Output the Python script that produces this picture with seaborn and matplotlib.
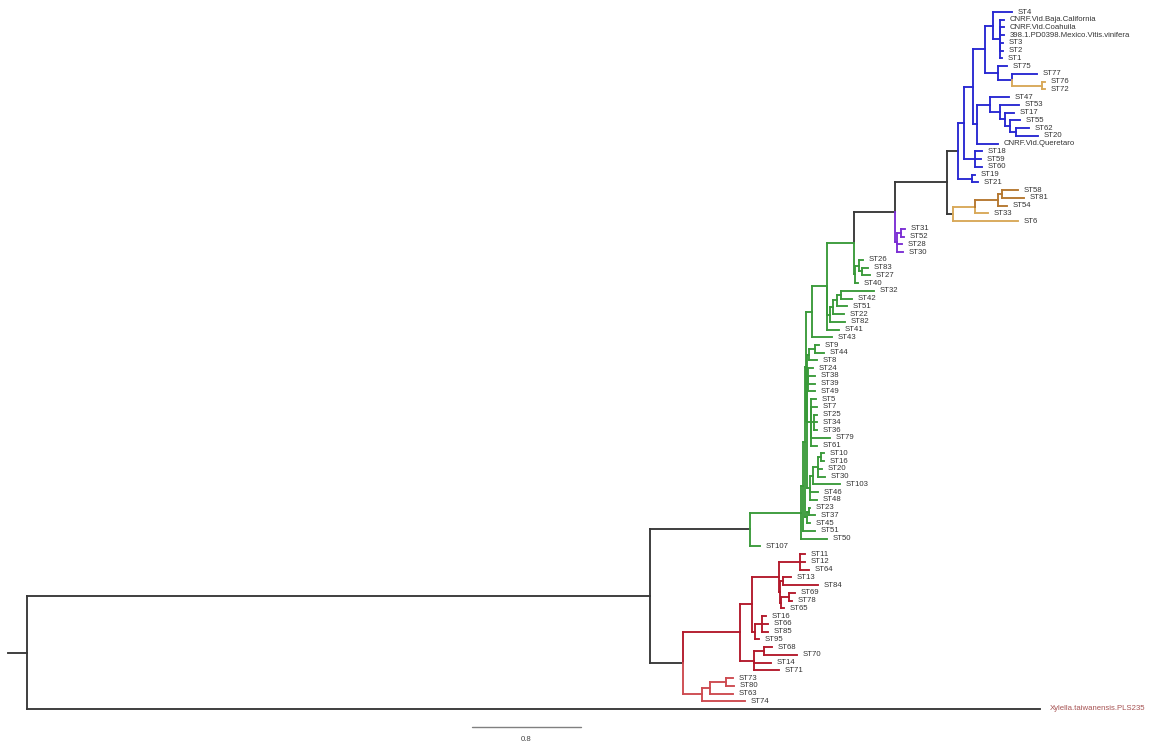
import matplotlib
matplotlib.use("Agg")
import matplotlib.pyplot as plt
import seaborn as sns
import pandas as pd

# Newick-style clade definitions. The number after ':' is the cumulative
# distance of that node from the root (substitutions per site).
CLADE_B6 = "(ST4:7.243,(CNRF.Vid.Baja.California:7.184,CNRF.Vid.Coahuila:7.184,398.1.PD0398.Mexico.Vitis.vinifera:7.184,ST3:7.176,ST2:7.176,ST1:7.169)B7:7.154)B6:7.103"
CLADE_B8 = "(ST75:7.206,(ST77:7.426,(ST76:7.485,ST72:7.485)B10:7.463)B9:7.243)B8:7.140"
CLADE_B5 = "((ST47:7.221,(ST53:7.294,(ST17:7.257,(ST55:7.301,(ST62:7.368,ST20:7.434)L4:7.272)L3:7.228)L2:7.191)L1b:7.154)L1:7.081,CNRF.Vid.Queretaro:7.140)B5:6.985"
CLADE_B3 = "(ST18:7.022,ST59:7.015,ST60:7.022)B3:6.971"
CLADE_BLOW = "(ST19:6.971,ST21:6.993)Blow:6.949"
CLADE_O = "((((ST58:7.287,ST81:7.331)O3:7.169,ST54:7.206)O2:7.140,ST33:7.066)O1:6.971,ST6:7.287)O:6.809"
CLADE_P = "((ST31:6.456,ST52:6.449)P1:6.426,ST28:6.434,ST30:6.441)P:6.397"
CLADE_E = "((ST26:6.147,(ST83:6.184,ST27:6.199)E2:6.140)E1:6.118,ST40:6.110)E:6.088"
CLADE_LAD = "((((ST32:6.228,ST42:6.066)LAD4:5.985,ST51:6.029)LAD3:5.956,ST22:6.007)LAD2:5.926,ST82:6.015)LAD:5.904"
CLADE_GC = ("(((ST9:5.824,ST44:5.860)GC1a:5.794,ST8:5.809)GC1:5.750,"
            "(ST24:5.779,ST38:5.794,ST39:5.794,ST49:5.794)GC2:5.743,"
            "(ST5:5.801,ST7:5.809,(ST25:5.809,ST34:5.809,ST36:5.809)GC3a:5.787,ST79:5.904,ST61:5.809)GC3:5.765,"
            "((((ST10:5.860,ST16:5.860)GC7:5.838,ST20:5.846,ST30:5.868)GC6:5.816,ST103:5.978)GC5:5.779,ST46:5.816,ST48:5.809)GC4:5.757)GC:5.735")
CLADE_GD = "((ST23:5.757,ST37:5.794)GD1:5.750,ST45:5.757)GD:5.735"
CLADE_R7 = "(ST11:5.721,ST12:5.721,ST64:5.750)R7:5.684"
CLADE_R8 = "((ST13:5.618,ST84:5.816)R8a:5.559,((ST69:5.647,ST78:5.625)R8c:5.603,ST65:5.566)R8b:5.544)R8:5.537"
CLADE_R6 = "((ST16:5.434,ST66:5.449,ST85:5.449)R6a:5.404,ST95:5.382)R6:5.353"
CLADE_R4 = "((ST68:5.478,ST70:5.662)R4a:5.419,ST14:5.471,ST71:5.529)R4:5.346"
CLADE_R2 = "(((ST73:5.191,ST80:5.199)R2b:5.140,ST63:5.191)R2a:5.022,ST74:5.279)R2:4.963"
OUTGROUP = "Xylella.taiwanensis.PLS235:7.449"

# Assemble the full tree
b4 = f"({CLADE_B6},{CLADE_B8})B4:7.044"
b2 = f"({b4},{CLADE_B5})B2:6.956"
b1 = f"({b2},{CLADE_B3})B1:6.890"
b0 = f"({b1},{CLADE_BLOW})B0:6.846"
v = f"({b0},{CLADE_O})V:6.765"
u = f"({v},{CLADE_P})U:6.382"
d = f"({u},{CLADE_E})D:6.081"
c1 = f"({d},{CLADE_LAD},ST41:5.971)C1:5.882"
gb = f"({c1},ST43:5.919)GB:5.772"
g4 = f"({gb},{CLADE_GC})G4:5.728"
g3 = f"({g4},{CLADE_GD})G3:5.721"
g2 = f"({g3},ST51:5.794)G2:5.706"
g = f"({g2},ST50:5.882)G:5.691"
bn = f"({g},ST107:5.390)BN:5.316"
r5 = f"({CLADE_R7},{CLADE_R8})R5:5.529"
r3 = f"({r5},{CLADE_R6})R3:5.331"
r1 = f"({r3},{CLADE_R4})R1:5.243"
r = f"({r1},{CLADE_R2})R:4.824"
a = f"({bn},{r})A:4.581"
TREE = f"({a},{OUTGROUP})root:0;"

# Clade colouring: a tag applies to the node and everything below it
PALETTE = {
    "black": "#383838",
    "green": "#3a9a3a",
    "blue": "#2828d2",
    "purple": "#7b2fd4",
    "tan": "#d8a858",
    "amber": "#b5772f",
    "crimson": "#b3192b",
    "rose": "#cd4a50",
}
CLADE_TAGS = {
    "G": "green", "ST107": "green", "U": "black", "P": "purple",
    "B1": "blue", "Blow": "blue", "O1": "tan", "ST6": "tan", "O2": "amber",
    "B10": "tan", "R1": "crimson", "R2": "rose",
}
SCALE_LENGTH = 0.8


def parse_newick(s):
    pos = 0

    def node():
        nonlocal pos
        children = []
        if s[pos] == "(":
            pos += 1
            while True:
                children.append(node())
                if s[pos] == ",":
                    pos += 1
                    continue
                if s[pos] == ")":
                    pos += 1
                    break
        start = pos
        while s[pos] not in ",();":
            pos += 1
        name, depth = s[start:pos].rsplit(":", 1)
        return {"name": name.strip(), "depth": float(depth), "children": children}

    return node()


tree = parse_newick(TREE)

# Leaf order gives vertical positions; internal nodes sit midway between outer children
leaves = []


def layout(n, color):
    n["color"] = CLADE_TAGS.get(n["name"], color)
    if not n["children"]:
        n["y"] = len(leaves)
        leaves.append(n)
    else:
        for c in n["children"]:
            layout(c, n["color"])
        n["y"] = (n["children"][0]["y"] + n["children"][-1]["y"]) / 2


layout(tree, "black")

rows = []
seg = 0


def add_seg(x0, y0, x1, y1, color):
    global seg
    rows.append({"seg": seg, "x": x0, "y": y0, "clade": color})
    rows.append({"seg": seg, "x": x1, "y": y1, "clade": color})
    seg += 1


def edges(n, parent=None):
    if parent is not None:
        add_seg(parent["depth"], n["y"], n["depth"], n["y"], n["color"])
    for c in n["children"]:
        add_seg(n["depth"], n["y"], n["depth"], c["y"], c["color"])
        edges(c, n)


edges(tree)
add_seg(-0.14, tree["y"], 0.0, tree["y"], "black")
df = pd.DataFrame(rows)

sns.set_theme(style="white")
plt.rcParams["font.family"] = ["Liberation Sans", "DejaVu Sans"]

fig = plt.figure(figsize=(11.51, 7.44), dpi=100)
ax = fig.add_axes([0, 0, 1, 1])
sns.lineplot(data=df, x="x", y="y", units="seg", estimator=None, hue="clade",
             palette=PALETTE, sort=False, legend=False, linewidth=1.35,
             solid_capstyle="projecting", ax=ax)

for lf in leaves:
    outgroup = lf["name"].startswith("Xylella")
    ax.annotate(lf["name"], xy=(lf["depth"], lf["y"]),
                xytext=(7 if outgroup else 4, 0), textcoords="offset points",
                va="center", ha="left", fontsize=5.6,
                color="#a65252" if outgroup else "#333333")

# Scale bar
sb_x0 = 3.272
sb_y = 92.3
ax.plot([sb_x0, sb_x0 + SCALE_LENGTH], [sb_y, sb_y], color="#808080", lw=1.0)
ax.text(sb_x0 + SCALE_LENGTH / 2, sb_y + 1.7, f"{SCALE_LENGTH}", ha="center",
        va="center", fontsize=5.6, color="#444444")

ax.set_xlim(-0.1985, 8.265)
ax.set_ylim(94.52, -1.55)
ax.axis("off")
fig.savefig("out.png", dpi=100)
